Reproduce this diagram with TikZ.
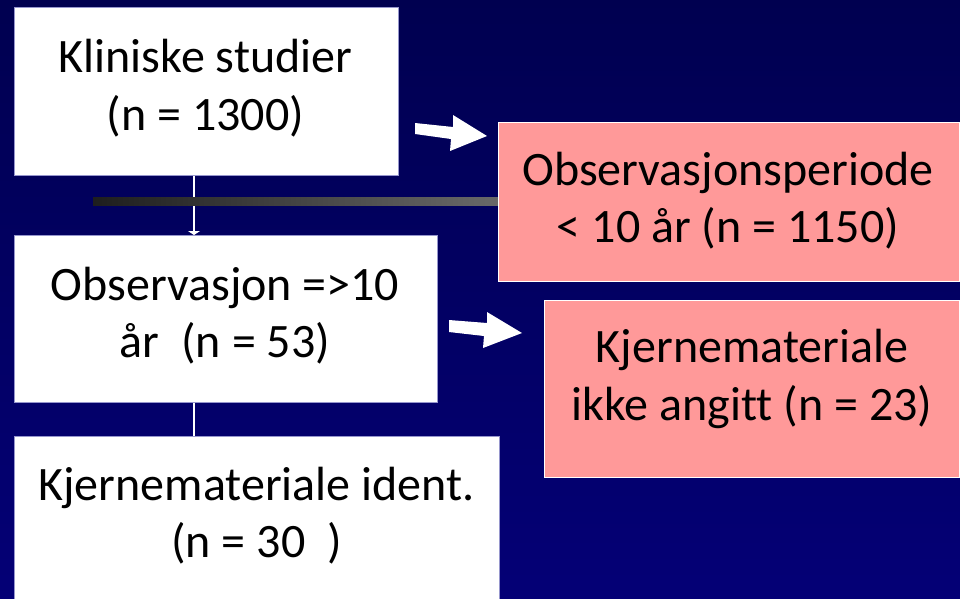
\documentclass[tikz,border=0pt]{standalone}
\usepackage{fontspec}
\setmainfont{Carlito}[Ligatures=CommonOff]
\usetikzlibrary{arrows.meta}
\definecolor{bgtop}{RGB}{0,0,80}
\definecolor{bgbot}{RGB}{4,0,118}
\definecolor{pinkfill}{RGB}{255,153,153}
\definecolor{boxedge}{RGB}{150,150,205}
\definecolor{barleft}{RGB}{30,30,30}
\definecolor{barright}{RGB}{105,105,105}
\tikzset{
  wbox/.style={draw=boxedge, line width=0.8pt, fill=white, inner sep=0pt, anchor=north west},
  pbox/.style={draw=white, line width=1pt, fill=pinkfill, inner sep=0pt, anchor=north west},
  txt/.style={font=\fontsize{48}{57}\selectfont, text=black, anchor=base, inner sep=0pt},
  conn/.style={draw=white, line width=1.5pt},
  blockarrow/.style={fill=white, draw=none}
}
\begin{document}
\begin{tikzpicture}[x=1pt,y=-1pt]
\useasboundingbox (0,0) rectangle (960,598);
\shade[top color=bgtop, bottom color=bgbot] (0,0) rectangle (960,598);

% boxes
\node[wbox, minimum width=384pt, minimum height=168pt] (b1) at (14,7) {};
\node[wbox, minimum width=423pt, minimum height=167pt] (b2) at (14,235) {};
\node[wbox, minimum width=485pt, minimum height=180pt] (b3) at (14,436) {};

% connectors
\coordinate (cx) at (194,0);
\draw[conn, -{Triangle[width=12pt,length=4pt]}] (b1.south -| cx) -- (b2.north -| cx);
\draw[conn] (b2.south -| cx) -- (b3.north -| cx);

% gradient bar
\shade[left color=barleft, right color=barright] (93,197) rectangle (498,205);

\node[pbox, minimum width=461pt, minimum height=159pt] (p1) at (498,122) {};
\node[pbox, minimum width=415pt, minimum height=177pt] (p2) at (544,300) {};

% block arrows
\fill[blockarrow] (415,123) -- (453,127) -- (453,115) -- (487,136) -- (450,151) -- (451,139) -- (415,134) -- cycle;
\fill[blockarrow] (449,320) -- (487,323) -- (487,312) -- (522,333) -- (483,348) -- (484,336) -- (449,332) -- cycle;

% texts
\node[txt] (t1a) at (205.5,72) {Kliniske studier};
\node[txt] (t1b) at (205.5,130) {(n = 1300)};
\node[txt] (t2a) at (225,300) {Observasjon =>10};
\node[txt] (t2b) at (225,357) {år\ \ (n = 53)};
\node[txt] (t3a) at (256.5,500) {Kjernemateriale ident.};
\node[txt] (t3b) at (256.5,557) {(n = 30\ \ )};
\node[txt] (t4a) at (728,185) {Observasjonsperiode};
\node[txt] (t4b) at (728,242) {< 10 år (n = 1150)};
\node[txt] (t5a) at (752,362) {Kjernemateriale};
\node[txt] (t5b) at (752,420) {ikke angitt (n = 23)};
\end{tikzpicture}
\end{document}
